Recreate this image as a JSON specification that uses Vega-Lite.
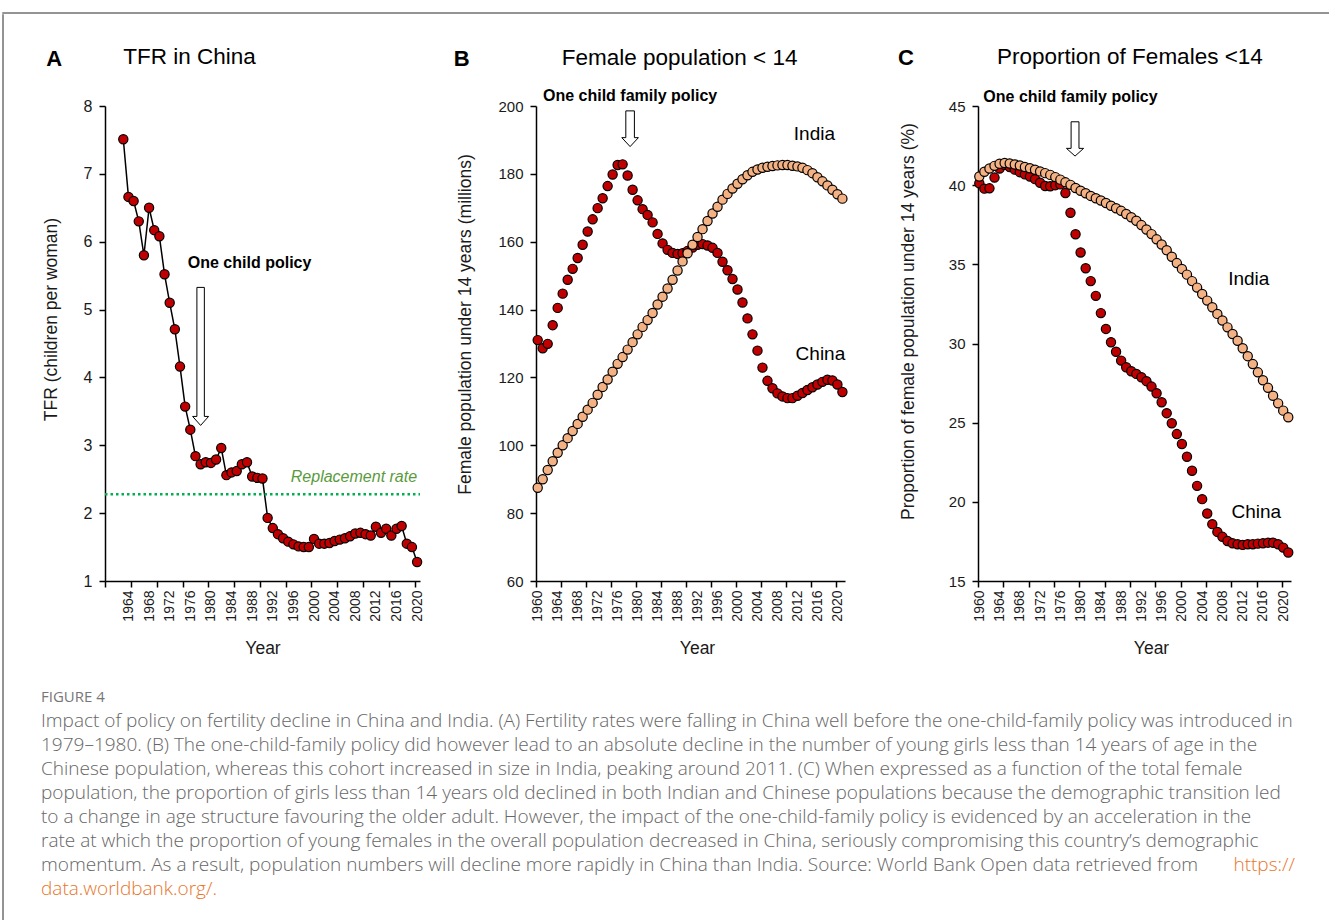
{
  "$schema": "https://vega.github.io/schema/vega-lite/v6.json",
  "padding": {"left": 2, "top": 12, "right": 0, "bottom": 0},
  "background": "white",
  "config": {
    "font": "Liberation Sans",
    "view": {"stroke": null},
    "axis": {"domainColor": "#000", "domainWidth": 1.5, "tickColor": "#000", "tickWidth": 1.5, "tickSize": 6, "labelColor": "#1a1a1a", "titleColor": "#1a1a1a", "titleFontWeight": "normal", "grid": false, "labelFont": "Liberation Sans", "titleFont": "Liberation Sans"}
  },
  "datasets": {
    "tfr": [
      {"year":1963,"v":7.51},{"year":1964,"v":6.66},{"year":1965,"v":6.60},{"year":1966,"v":6.30},{"year":1967,"v":5.80},{"year":1968,"v":6.50},{"year":1969,"v":6.17},{"year":1970,"v":6.08},{"year":1971,"v":5.52},{"year":1972,"v":5.10},{"year":1973,"v":4.71},{"year":1974,"v":4.16},{"year":1975,"v":3.57},{"year":1976,"v":3.23},{"year":1977,"v":2.84},{"year":1978,"v":2.72},{"year":1979,"v":2.75},{"year":1980,"v":2.74},{"year":1981,"v":2.79},{"year":1982,"v":2.96},{"year":1983,"v":2.56},{"year":1984,"v":2.60},{"year":1985,"v":2.62},{"year":1986,"v":2.72},{"year":1987,"v":2.75},{"year":1988,"v":2.54},{"year":1989,"v":2.52},{"year":1990,"v":2.51},{"year":1991,"v":1.93},{"year":1992,"v":1.78},{"year":1993,"v":1.69},{"year":1994,"v":1.63},{"year":1995,"v":1.58},{"year":1996,"v":1.54},{"year":1997,"v":1.51},{"year":1998,"v":1.50},{"year":1999,"v":1.50},{"year":2000,"v":1.62},{"year":2001,"v":1.55},{"year":2002,"v":1.55},{"year":2003,"v":1.56},{"year":2004,"v":1.59},{"year":2005,"v":1.61},{"year":2006,"v":1.63},{"year":2007,"v":1.66},{"year":2008,"v":1.70},{"year":2009,"v":1.71},{"year":2010,"v":1.69},{"year":2011,"v":1.67},{"year":2012,"v":1.80},{"year":2013,"v":1.71},{"year":2014,"v":1.77},{"year":2015,"v":1.67},{"year":2016,"v":1.77},{"year":2017,"v":1.81},{"year":2018,"v":1.55},{"year":2019,"v":1.50},{"year":2020,"v":1.28}
    ],
    "pop": [
      {"year":1960,"china":131.0,"india":87.5},{"year":1961,"china":128.6,"india":90.0},{"year":1962,"china":129.9,"india":92.7},{"year":1963,"china":135.4,"india":95.3},{"year":1964,"china":140.5,"india":97.8},{"year":1965,"china":144.7,"india":100.0},{"year":1966,"china":148.8,"india":102.1},{"year":1967,"china":152.0,"india":104.2},{"year":1968,"china":155.2,"india":106.3},{"year":1969,"china":159.1,"india":108.4},{"year":1970,"china":163.0,"india":110.5},{"year":1971,"china":166.6,"india":112.5},{"year":1972,"china":169.9,"india":114.9},{"year":1973,"china":172.8,"india":117.2},{"year":1974,"china":176.4,"india":119.4},{"year":1975,"china":179.8,"india":121.7},{"year":1976,"china":182.6,"india":124.0},{"year":1977,"china":182.8,"india":126.0},{"year":1978,"china":179.5,"india":128.2},{"year":1979,"china":175.3,"india":130.4},{"year":1980,"china":172.2,"india":132.7},{"year":1981,"china":169.6,"india":134.9},{"year":1982,"china":167.9,"india":136.9},{"year":1983,"china":165.7,"india":139.0},{"year":1984,"china":162.3,"india":141.5},{"year":1985,"china":159.5,"india":143.8},{"year":1986,"china":157.6,"india":146.2},{"year":1987,"china":156.7,"india":148.8},{"year":1988,"china":156.4,"india":151.5},{"year":1989,"china":156.6,"india":154.2},{"year":1990,"china":157.3,"india":156.6},{"year":1991,"china":158.3,"india":159.1},{"year":1992,"china":159.1,"india":161.4},{"year":1993,"china":159.3,"india":163.7},{"year":1994,"china":158.9,"india":166.1},{"year":1995,"china":158.2,"india":168.3},{"year":1996,"china":156.7,"india":170.3},{"year":1997,"china":154.1,"india":172.4},{"year":1998,"china":151.6,"india":174.1},{"year":1999,"china":149.0,"india":175.7},{"year":2000,"china":145.9,"india":177.1},{"year":2001,"china":142.1,"india":178.4},{"year":2002,"china":137.4,"india":179.6},{"year":2003,"china":132.7,"india":180.6},{"year":2004,"china":127.9,"india":181.3},{"year":2005,"china":122.9,"india":181.8},{"year":2006,"china":119.0,"india":182.1},{"year":2007,"china":116.8,"india":182.3},{"year":2008,"china":115.3,"india":182.5},{"year":2009,"china":114.4,"india":182.6},{"year":2010,"china":113.9,"india":182.6},{"year":2011,"china":113.9,"india":182.4},{"year":2012,"china":114.6,"india":182.2},{"year":2013,"china":115.4,"india":181.8},{"year":2014,"china":116.3,"india":181.1},{"year":2015,"china":117.1,"india":180.2},{"year":2016,"china":117.9,"india":179.0},{"year":2017,"china":118.7,"india":177.8},{"year":2018,"china":119.3,"india":176.6},{"year":2019,"china":119.1,"india":175.3},{"year":2020,"china":117.9,"india":174.0},{"year":2021,"china":115.7,"india":172.7}
    ],
    "prop": [
      {"year":1960,"china":40.12,"india":40.55},{"year":1961,"china":39.78,"india":40.85},{"year":1962,"china":39.80,"india":41.05},{"year":1963,"china":40.48,"india":41.22},{"year":1964,"china":41.05,"india":41.35},{"year":1965,"china":41.28,"india":41.40},{"year":1966,"china":41.15,"india":41.37},{"year":1967,"china":40.98,"india":41.31},{"year":1968,"china":40.82,"india":41.24},{"year":1969,"china":40.68,"india":41.15},{"year":1970,"china":40.55,"india":41.07},{"year":1971,"china":40.38,"india":40.97},{"year":1972,"china":40.15,"india":40.87},{"year":1973,"china":39.95,"india":40.76},{"year":1974,"china":39.93,"india":40.65},{"year":1975,"china":40.00,"india":40.51},{"year":1976,"china":40.05,"india":40.35},{"year":1977,"china":39.50,"india":40.18},{"year":1978,"china":38.26,"india":40.02},{"year":1979,"china":36.90,"india":39.82},{"year":1980,"china":35.75,"india":39.65},{"year":1981,"china":34.75,"india":39.49},{"year":1982,"china":33.94,"india":39.32},{"year":1983,"china":33.01,"india":39.17},{"year":1984,"china":31.92,"india":39.03},{"year":1985,"china":30.92,"india":38.87},{"year":1986,"china":30.08,"india":38.70},{"year":1987,"china":29.48,"india":38.54},{"year":1988,"china":28.92,"india":38.38},{"year":1989,"china":28.50,"india":38.18},{"year":1990,"china":28.25,"india":37.97},{"year":1991,"china":28.08,"india":37.75},{"year":1992,"china":27.87,"india":37.48},{"year":1993,"china":27.62,"india":37.20},{"year":1994,"china":27.28,"india":36.91},{"year":1995,"china":26.86,"india":36.58},{"year":1996,"china":26.29,"india":36.25},{"year":1997,"china":25.60,"india":35.89},{"year":1998,"china":24.96,"india":35.48},{"year":1999,"china":24.28,"india":35.08},{"year":2000,"china":23.65,"india":34.71},{"year":2001,"china":22.85,"india":34.35},{"year":2002,"china":21.96,"india":33.94},{"year":2003,"china":21.01,"india":33.53},{"year":2004,"china":20.17,"india":33.13},{"year":2005,"china":19.26,"india":32.71},{"year":2006,"china":18.59,"india":32.29},{"year":2007,"china":18.10,"india":31.87},{"year":2008,"china":17.79,"india":31.45},{"year":2009,"china":17.53,"india":31.02},{"year":2010,"china":17.38,"india":30.60},{"year":2011,"china":17.32,"india":30.17},{"year":2012,"china":17.28,"india":29.70},{"year":2013,"china":17.32,"india":29.20},{"year":2014,"china":17.32,"india":28.70},{"year":2015,"china":17.36,"india":28.18},{"year":2016,"china":17.38,"india":27.68},{"year":2017,"china":17.42,"india":27.20},{"year":2018,"china":17.42,"india":26.70},{"year":2019,"china":17.32,"india":26.22},{"year":2020,"china":17.11,"india":25.76},{"year":2021,"china":16.80,"india":25.34}
    ]
  },
  "spacing": 0,
  "vconcat": [
    {"width": 1327, "height": 0.01, "view": {"stroke": "#707070", "strokeWidth": 1.5}, "data": {"values": []}, "mark": "point", "encoding": {}},
    {
      "spacing": 37,
      "hconcat": [
        {"width": 0.01, "height": 908, "view": {"stroke": "#707070", "strokeWidth": 1.5}, "data": {"values": []}, "mark": "point", "encoding": {}},
        {
          "spacing": 29,
          "vconcat": [
            {"width": 10, "height": 0.01, "data": {"values": []}, "mark": "point", "encoding": {}},
            {
              "spacing": 33,
              "vconcat": [
                {
                  "spacing": 28,
                  "hconcat": [
                    {
                      "width": 315, "height": 475,
                      "resolve": {"axis": {"x": "independent"}},
                      "layer": [
                        {
                          "data": {"name": "tfr"},
                          "mark": {"type": "line", "color": "#000", "strokeWidth": 1.5},
                          "encoding": {
                            "x": {"field": "year", "type": "quantitative", "scale": {"domain": [1959.45, 2020.56], "nice": false, "zero": false},
                                  "axis": {"orient": "bottom", "values": [1959.5,1964.5,1969.5,1974.5,1979.5,1984.5,1989.5,1994.5,1999.5,2004.5,2009.5,2014.5,2019.5], "labels": false, "title": null}},
                            "y": {"field": "v", "type": "quantitative", "scale": {"domain": [1, 8], "nice": false, "zero": false},
                                  "axis": {"values": [1,2,3,4,5,6,7,8], "format": "d", "title": "TFR (children per woman)", "labelFontSize": 16, "titleFontSize": 17.5, "labelPadding": 7, "titlePadding": 23, "titleY": 213}}
                          }
                        },
                        {
                          "data": {"name": "tfr"},
                          "mark": {"type": "point", "filled": true, "fill": "#C00000", "stroke": "#000", "strokeWidth": 1.2, "size": 85, "opacity": 1},
                          "encoding": {
                            "x": {"field": "year", "type": "quantitative",
                                  "axis": {"orient": "bottom", "values": [1964,1968,1972,1976,1980,1984,1988,1992,1996,2000,2004,2008,2012,2016,2020], "ticks": false, "domain": false, "labelAngle": -90, "format": "d", "labelFontSize": 14, "labelPadding": 9, "title": "Year", "titleFontSize": 17.5, "titlePadding": 18}},
                            "y": {"field": "v", "type": "quantitative"}
                          }
                        },
                        {
                          "data": {"values": [{"year": 1959.45, "v": 2.28}, {"year": 2020.56, "v": 2.28}]},
                          "mark": {"type": "line", "color": "#00B050", "strokeWidth": 2.5, "strokeDash": [2.5, 3]},
                          "encoding": {"x": {"field": "year", "type": "quantitative", "axis": null}, "y": {"field": "v", "type": "quantitative"}}
                        },
                        {
                          "data": {"values": [{"year": 2020.0, "v": 2.53, "label": "Replacement rate"}]},
                          "mark": {"type": "text", "align": "right", "baseline": "middle", "fontStyle": "italic", "fontSize": 16, "color": "#5A9A3C"},
                          "encoding": {"x": {"field": "year", "type": "quantitative", "axis": null}, "y": {"field": "v", "type": "quantitative"}, "text": {"field": "label"}}
                        },
                        {
                          "data": {"values": [{"year": 1987.5, "v": 5.68, "label": "One child policy"}]},
                          "mark": {"type": "text", "align": "center", "baseline": "middle", "fontWeight": "bold", "fontSize": 16, "color": "#000"},
                          "encoding": {"x": {"field": "year", "type": "quantitative", "axis": null}, "y": {"field": "v", "type": "quantitative"}, "text": {"field": "label"}}
                        },
                        {
                          "data": {"values": [{"year": 1978, "v": 4.31}]},
                          "mark": {"type": "point", "filled": true, "fill": "#fff", "stroke": "#000", "strokeWidth": 1, "opacity": 1, "size": 19044, "shape": "M-0.054,-1L0.054,-1L0.054,0.87L0.116,0.87L0,1L-0.116,0.87L-0.054,0.87Z"},
                          "encoding": {"x": {"field": "year", "type": "quantitative", "axis": null}, "y": {"field": "v", "type": "quantitative"}}
                        },
                        {
                          "data": {"values": [{"year": 1949.6, "v": 8.70, "label": "A"}]},
                          "mark": {"type": "text", "align": "center", "baseline": "middle", "fontWeight": "bold", "fontSize": 22, "color": "#000"},
                          "encoding": {"x": {"field": "year", "type": "quantitative", "axis": null}, "y": {"field": "v", "type": "quantitative"}, "text": {"field": "label"}}
                        },
                        {
                          "data": {"values": [{"year": 1963.0, "v": 8.72, "label": "TFR in China"}]},
                          "mark": {"type": "text", "align": "left", "baseline": "middle", "fontSize": 22.5, "color": "#000"},
                          "encoding": {"x": {"field": "year", "type": "quantitative", "axis": null}, "y": {"field": "v", "type": "quantitative"}, "text": {"field": "label"}}
                        }
                      ]
                    },
                    {
                      "spacing": 47,
                      "hconcat": [
                        {
                          "width": 309, "height": 475,
                          "resolve": {"axis": {"x": "independent"}},
                          "layer": [
                            {
                              "data": {"name": "pop"},
                              "mark": {"type": "point", "filled": true, "fill": "#C00000", "stroke": "#000", "strokeWidth": 1.2, "size": 85, "opacity": 1},
                              "encoding": {
                                "x": {"field": "year", "type": "quantitative", "scale": {"domain": [1959.66, 2021.52], "nice": false, "zero": false},
                                      "axis": {"orient": "bottom", "values": [1959.66,1964.66,1969.66,1974.66,1979.66,1984.66,1989.66,1994.66,1999.66,2004.66,2009.66,2014.66,2019.66], "labels": false, "title": null}},
                                "y": {"field": "china", "type": "quantitative", "scale": {"domain": [60, 200], "nice": false, "zero": false},
                                      "axis": {"values": [60,80,100,120,140,160,180,200], "title": "Female population under 14 years (millions)", "labelFontSize": 15, "titleFontSize": 17.5, "labelPadding": 7, "titlePadding": 23.5, "titleY": 218}}
                              }
                            },
                            {
                              "data": {"name": "pop"},
                              "mark": {"type": "point", "filled": true, "fill": "#F4B183", "stroke": "#000", "strokeWidth": 1.2, "size": 85, "opacity": 1},
                              "encoding": {"x": {"field": "year", "type": "quantitative", "axis": null}, "y": {"field": "india", "type": "quantitative"}}
                            },
                            {
                              "data": {"values": [{"year": 2015.4, "v": 191.7, "label": "India"}, {"year": 2016.6, "v": 127.0, "label": "China"}]},
                              "mark": {"type": "text", "align": "center", "baseline": "middle", "fontSize": 19, "color": "#000"},
                              "encoding": {
                                "x": {"field": "year", "type": "quantitative",
                                      "axis": {"orient": "bottom", "values": [1960,1964,1968,1972,1976,1980,1984,1988,1992,1996,2000,2004,2008,2012,2016,2020], "ticks": false, "domain": false, "labelAngle": -90, "format": "d", "labelFontSize": 14, "labelPadding": 9, "title": "Year", "titleFontSize": 17.5, "titlePadding": 18, "titleX": 161}},
                                "y": {"field": "v", "type": "quantitative"},
                                "text": {"field": "label"}
                              }
                            },
                            {
                              "data": {"values": [{"year": 1978.5, "v": 193.3}]},
                              "mark": {"type": "point", "filled": true, "fill": "#fff", "stroke": "#000", "strokeWidth": 1, "opacity": 1, "size": 1274, "shape": "M-0.24,-1L0.24,-1L0.24,0.5L0.465,0.5L0,1L-0.465,0.5L-0.24,0.5Z"},
                              "encoding": {"x": {"field": "year", "type": "quantitative", "axis": null}, "y": {"field": "v", "type": "quantitative"}}
                            },
                            {
                              "data": {"values": [{"year": 1978.5, "v": 202.9, "label": "One child family policy"}]},
                              "mark": {"type": "text", "align": "center", "baseline": "middle", "fontWeight": "bold", "fontSize": 16, "color": "#000"},
                              "encoding": {"x": {"field": "year", "type": "quantitative", "axis": null}, "y": {"field": "v", "type": "quantitative"}, "text": {"field": "label"}}
                            },
                            {
                              "data": {"values": [{"year": 1944.8, "v": 213.8, "label": "B"}]},
                              "mark": {"type": "text", "align": "center", "baseline": "middle", "fontWeight": "bold", "fontSize": 22, "color": "#000"},
                              "encoding": {"x": {"field": "year", "type": "quantitative", "axis": null}, "y": {"field": "v", "type": "quantitative"}, "text": {"field": "label"}}
                            },
                            {
                              "data": {"values": [{"year": 1964.8, "v": 214.1, "label": "Female population < 14"}]},
                              "mark": {"type": "text", "align": "left", "baseline": "middle", "fontSize": 22.5, "color": "#000"},
                              "encoding": {"x": {"field": "year", "type": "quantitative", "axis": null}, "y": {"field": "v", "type": "quantitative"}, "text": {"field": "label"}}
                            }
                          ]
                        },
                        {
                          "width": 313, "height": 475,
                          "resolve": {"axis": {"x": "independent"}},
                          "layer": [
                            {
                              "data": {"name": "prop"},
                              "mark": {"type": "point", "filled": true, "fill": "#C00000", "stroke": "#000", "strokeWidth": 1.2, "size": 85, "opacity": 1},
                              "encoding": {
                                "x": {"field": "year", "type": "quantitative", "scale": {"domain": [1959.74, 2021.54], "nice": false, "zero": false},
                                      "axis": {"orient": "bottom", "values": [1959.74,1964.74,1969.74,1974.74,1979.74,1984.74,1989.74,1994.74,1999.74,2004.74,2009.74,2014.74,2019.74], "labels": false, "title": null}},
                                "y": {"field": "china", "type": "quantitative", "scale": {"domain": [15, 45], "nice": false, "zero": false},
                                      "axis": {"values": [15,20,25,30,35,40,45], "title": "Proportion of female population under 14 years (%)", "labelFontSize": 15, "titleFontSize": 17.5, "labelPadding": 7, "titlePadding": 31, "titleY": 215}}
                              }
                            },
                            {
                              "data": {"name": "prop"},
                              "mark": {"type": "point", "filled": true, "fill": "#F4B183", "stroke": "#000", "strokeWidth": 1.2, "size": 85, "opacity": 1},
                              "encoding": {"x": {"field": "year", "type": "quantitative", "axis": null}, "y": {"field": "india", "type": "quantitative"}}
                            },
                            {
                              "data": {"values": [{"year": 2013.2, "v": 34.09, "label": "India"}, {"year": 2014.7, "v": 19.37, "label": "China"}]},
                              "mark": {"type": "text", "align": "center", "baseline": "middle", "fontSize": 19, "color": "#000"},
                              "encoding": {
                                "x": {"field": "year", "type": "quantitative",
                                      "axis": {"orient": "bottom", "values": [1960,1964,1968,1972,1976,1980,1984,1988,1992,1996,2000,2004,2008,2012,2016,2020], "ticks": false, "domain": false, "labelAngle": -90, "format": "d", "labelFontSize": 14, "labelPadding": 9, "title": "Year", "titleFontSize": 17.5, "titlePadding": 18, "titleX": 173}},
                                "y": {"field": "v", "type": "quantitative"},
                                "text": {"field": "label"}
                              }
                            },
                            {
                              "data": {"values": [{"year": 1978.9, "v": 42.92}]},
                              "mark": {"type": "point", "filled": true, "fill": "#fff", "stroke": "#000", "strokeWidth": 1, "opacity": 1, "size": 1176, "shape": "M-0.23,-1L0.23,-1L0.23,0.55L0.5,0.55L0,1L-0.5,0.55L-0.23,0.55Z"},
                              "encoding": {"x": {"field": "year", "type": "quantitative", "axis": null}, "y": {"field": "v", "type": "quantitative"}}
                            },
                            {
                              "data": {"values": [{"year": 1978.0, "v": 45.55, "label": "One child family policy"}]},
                              "mark": {"type": "text", "align": "center", "baseline": "middle", "fontWeight": "bold", "fontSize": 16, "color": "#000"},
                              "encoding": {"x": {"field": "year", "type": "quantitative", "axis": null}, "y": {"field": "v", "type": "quantitative"}, "text": {"field": "label"}}
                            },
                            {
                              "data": {"values": [{"year": 1945.5, "v": 48.04, "label": "C"}]},
                              "mark": {"type": "text", "align": "center", "baseline": "middle", "fontWeight": "bold", "fontSize": 22, "color": "#000"},
                              "encoding": {"x": {"field": "year", "type": "quantitative", "axis": null}, "y": {"field": "v", "type": "quantitative"}, "text": {"field": "label"}}
                            },
                            {
                              "data": {"values": [{"year": 1963.5, "v": 48.1, "label": "Proportion of Females <14"}]},
                              "mark": {"type": "text", "align": "left", "baseline": "middle", "fontSize": 22.5, "color": "#000"},
                              "encoding": {"x": {"field": "year", "type": "quantitative", "axis": null}, "y": {"field": "v", "type": "quantitative"}, "text": {"field": "label"}}
                            }
                          ]
                        }
                      ]
                    }
                  ]
                },
                {
                  "width": 1190, "height": 192,
                  "layer": [
                    {
                      "data": {"values": [{"line": 0, "text": "FIGURE 4"}]},
                      "mark": {"type": "text", "align": "left", "baseline": "middle", "font": "Open Sans", "fontSize": 15, "color": "#777777", "dx": -64},
                      "encoding": {"x": {"datum": 0, "type": "quantitative", "scale": {"domain": [0, 1], "nice": false, "zero": false}, "axis": null}, "y": {"field": "line", "type": "quantitative", "scale": {"domain": [0, 8], "reverse": true, "nice": false, "zero": false}, "axis": null}, "text": {"field": "text"}}
                    },
                    {
                      "data": {"values": [
                        {"line": 1, "text": "Impact of policy on fertility decline in China and India. (A) Fertility rates were falling in China well before the one-child-family policy was introduced in"},
                        {"line": 2, "text": "1979–1980. (B) The one-child-family policy did however lead to an absolute decline in the number of young girls less than 14 years of age in the"},
                        {"line": 3, "text": "Chinese population, whereas this cohort increased in size in India, peaking around 2011. (C) When expressed as a function of the total female"},
                        {"line": 4, "text": "population, the proportion of girls less than 14 years old declined in both Indian and Chinese populations because the demographic transition led"},
                        {"line": 5, "text": "to a change in age structure favouring the older adult. However, the impact of the one-child-family policy is evidenced by an acceleration in the"},
                        {"line": 6, "text": "rate at which the proportion of young females in the overall population decreased in China, seriously compromising this country’s demographic"},
                        {"line": 7, "text": "momentum. As a result, population numbers will decline more rapidly in China than India. Source: World Bank Open data retrieved from"}
                      ]},
                      "mark": {"type": "text", "align": "left", "baseline": "middle", "font": "Open Sans", "fontWeight": 300, "fontSize": 19, "color": "#666666", "dx": -64},
                      "encoding": {"x": {"datum": 0, "type": "quantitative", "axis": null}, "y": {"field": "line", "type": "quantitative", "axis": null}, "text": {"field": "text"}}
                    },
                    {
                      "data": {"values": [{"line": 7, "text": "https://"}]},
                      "mark": {"type": "text", "align": "right", "baseline": "middle", "font": "Open Sans", "fontWeight": 300, "fontSize": 19, "color": "#E8762B"},
                      "encoding": {"x": {"datum": 1, "type": "quantitative", "axis": null}, "y": {"field": "line", "type": "quantitative", "axis": null}, "text": {"field": "text"}}
                    },
                    {
                      "data": {"values": [{"line": 8, "text": "data.worldbank.org/."}]},
                      "mark": {"type": "text", "align": "left", "baseline": "middle", "font": "Open Sans", "fontWeight": 300, "fontSize": 19, "color": "#E8762B", "dx": -64},
                      "encoding": {"x": {"datum": 0, "type": "quantitative", "axis": null}, "y": {"field": "line", "type": "quantitative", "axis": null}, "text": {"field": "text"}}
                    }
                  ]
                }
              ]
            }
          ]
        }
      ]
    }
  ]
}
